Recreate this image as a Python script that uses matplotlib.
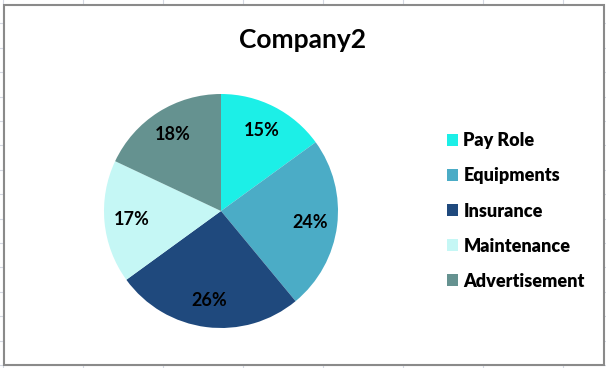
import matplotlib.pyplot as plt
from matplotlib.lines import Line2D
from matplotlib.patches import Rectangle, Patch

# data
categories = ['Pay Role', 'Equipments', 'Insurance', 'Maintenance', 'Advertisement']
shares = [15, 24, 26, 17, 18]
colors = ['#1CEFE7', '#4BACC6', '#1F497D', '#C5F7F5', '#659290']

W, H = 606, 368
plt.rcParams['font.family'] = ['Lato', 'DejaVu Sans']

fig = plt.figure(figsize=(W / 100, H / 100), dpi=100)
fig.patch.set_facecolor('white')

# excel sheet gridlines behind the chart
for x in range(3, W, 80):
    fig.add_artist(Line2D([x / W, x / W], [0, 1], color='#D4D8E2', lw=0.8, zorder=0))
y = 365.0
while y > 0:
    fig.add_artist(Line2D([0, 1], [1 - y / H, 1 - y / H], color='#D4D8E2', lw=0.8, zorder=0))
    y -= 24.4

# chart area
fig.add_artist(Rectangle((4 / W, 1 - 365 / H), 600 / W, 360 / H, facecolor='white',
                         edgecolor='#8A8A8A', lw=1.5, zorder=1))

fig.text(303 / W, 1 - 40 / H, 'Company2', ha='center', va='center',
         fontsize=19, fontweight='bold', zorder=3)

# pie
cx, cy, r = 221, 211, 117
ax = fig.add_axes([(cx - r) / W, 1 - (cy + r) / H, 2 * r / W, 2 * r / H], zorder=2)
wedges, texts, autotexts = ax.pie(shares, colors=colors, startangle=90, counterclock=False,
                                  autopct='%1.0f%%', pctdistance=0.77,
                                  textprops={'fontsize': 13, 'fontweight': 'bold'})
ax.set_xlim(-1, 1)
ax.set_ylim(-1, 1)
ax.set_aspect('equal')
ax.axis('off')

handles = [Patch(facecolor=c, edgecolor='none') for c in colors]
fig.legend(handles, categories, loc='center left', bbox_to_anchor=(447 / W, 1 - 211 / H),
           frameon=False, borderpad=0, borderaxespad=0, handlelength=0.61, handleheight=0.61,
           handletextpad=0.3, labelspacing=1.0, prop={'size': 13, 'weight': 'heavy'})

fig.savefig('out.png', dpi=100)
